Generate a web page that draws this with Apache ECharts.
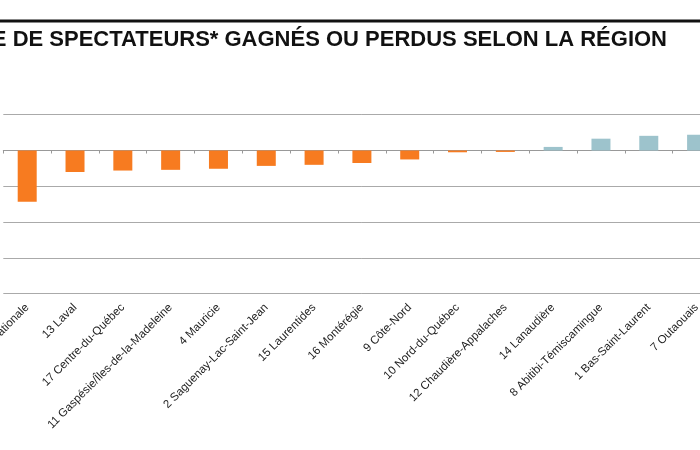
<!DOCTYPE html>
<html>
<head>
<meta charset="utf-8">
<script src="https://cdn.jsdelivr.net/npm/echarts@6/dist/echarts.min.js"></script>
<style>
html, body { margin: 0; padding: 0; width: 700px; height: 450px; overflow: hidden; background: #fff; }
#chart { position: absolute; left: -100px; top: 0; width: 840px; height: 450px; }
</style>
</head>
<body>
<div id="chart"></div>
<script>
const titleText = "NOMBRE DE SPECTATEURS* GAGNÉS OU PERDUS SELON LA RÉGION";
const regions = [
  "3 Capitale-Nationale", "13 Laval", "17 Centre-du-Québec", "11 Gaspésie/Îles-de-la-Madeleine",
  "4 Mauricie", "2 Saguenay-Lac-Saint-Jean", "15 Laurentides", "16 Montérégie", "9 Côte-Nord",
  "10 Nord-du-Québec", "12 Chaudière-Appalaches", "14 Lanaudière", "8 Abitibi-Témiscamingue",
  "1 Bas-Saint-Laurent", "7 Outaouais"
];
const variation = [
  -14300, -6000, -5600, -5400, -5100, -4300, -4000, -3500, -2500,
  -500, -400, 1000, 3300, 4100, 4400
];
const yMin = -40000, yMax = 10000, yStep = 10000;

const chart = echarts.init(document.getElementById('chart'));
chart.setOption({
  animation: false,
  grid: { left: 103.3, right: 19.5, top: 114.7, bottom: 156.3, containLabel: false },
  graphic: [
    { type: 'rect', shape: { x: 0, y: 19.5, width: 840, height: 3 }, style: { fill: '#111' } },
    { type: 'text', x: 767, y: 39.5,
      style: { text: titleText, fill: '#111', font: 'bold 22px "Liberation Sans", Arial, sans-serif',
               textAlign: 'right', textVerticalAlign: 'middle' } }
  ],
  xAxis: [
    { type: 'category', data: regions, position: 'top',
      axisLine: { onZero: true, lineStyle: { color: '#999', width: 1 } },
      axisTick: { show: true, inside: true, interval: 0, length: 3, lineStyle: { color: '#999' } },
      axisLabel: { show: false }, splitLine: { show: false } },
    { type: 'category', data: regions, position: 'bottom',
      axisLine: { show: false }, axisTick: { show: false },
      axisLabel: { show: true, interval: 0, rotate: 45, margin: 12, fontSize: 11.5,
                   color: '#222', fontFamily: '"Liberation Sans", Arial, sans-serif' } }
  ],
  yAxis: {
    type: 'value', min: yMin, max: yMax, interval: yStep,
    axisLine: { show: false }, axisTick: { show: false }, axisLabel: { show: false },
    splitLine: { lineStyle: { color: '#aaa', width: 1 } }
  },
  series: [{
    type: 'bar', xAxisIndex: 0, data: variation, barWidth: 19,
    itemStyle: { color: p => p.value < 0 ? '#F77B20' : '#9DC3CC' }
  }]
});
</script>
</body>
</html>
